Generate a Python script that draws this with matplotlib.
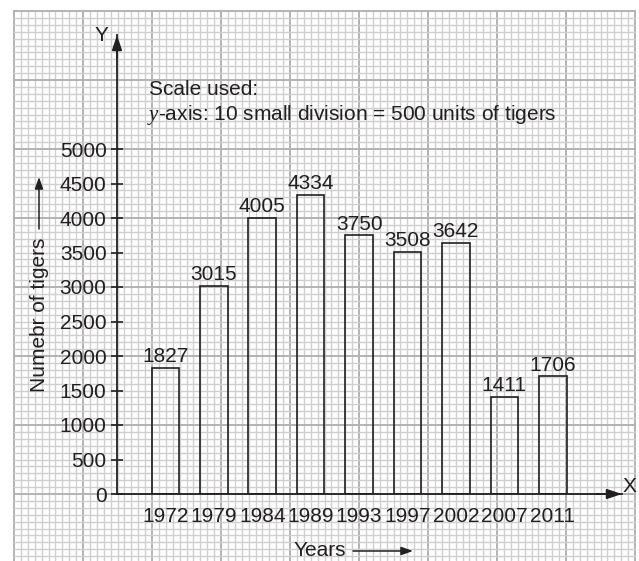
import matplotlib
matplotlib.use("Agg")
import matplotlib.pyplot as plt
import numpy as np

years = ["1972", "1979", "1984", "1989", "1993", "1997", "2002", "2007", "2011"]
tigers = [1827, 3015, 4005, 4334, 3750, 3508, 3642, 1411, 1706]
y_ticks = [0, 500, 1000, 1500, 2000, 2500, 3000, 3500, 4000, 4500, 5000]

INK = "#231f20"
FS = 15
plt.rcParams["font.family"] = ["Liberation Sans", "DejaVu Sans"]
plt.rcParams["mathtext.fontset"] = "custom"
plt.rcParams["mathtext.it"] = "Liberation Serif:italic"
plt.rcParams["mathtext.rm"] = "Liberation Sans"

W, H, DPI = 639, 561, 100
fig = plt.figure(figsize=(W / DPI, H / DPI), dpi=DPI)

# --- graph paper background, in pixel coordinates ---
bg = fig.add_axes([0, 0, 1, 1])
bg.set_xlim(0, W)
bg.set_ylim(H, 0)
bg.axis("off")
step = 6.9
x0, y0 = 14, 11
for k in range(91):
    x = x0 + k * step
    major = k % 10 == 0
    bg.plot([x, x], [y0, H], color="#b3b3b3" if major else "#cfcfcf",
            lw=1.4 if major else 1.0, zorder=0)
for k in range(80):
    y = y0 + k * step
    if y > H:
        break
    major = k % 10 == 0
    bg.plot([x0, x0 + 90 * step], [y, y], color="#b3b3b3" if major else "#cfcfcf",
            lw=1.4 if major else 1.0, zorder=0)

# --- main chart axes ---
ax_left, ax_right = 117, 622
ax_bottom, ax_top = 494, 35
ax = fig.add_axes([ax_left / W, (H - ax_bottom) / H,
                   (ax_right - ax_left) / W, (ax_bottom - ax_top) / H])
ax.patch.set_alpha(0)
ax.set_xlim(-1.0, 9.43)
ax.set_ylim(0, (ax_bottom - ax_top) / 0.069)

x = np.arange(len(years))
ax.bar(x, tigers, width=0.57, facecolor="none", edgecolor=INK, linewidth=1.2, zorder=3)
for xi, v in zip(x, tigers):
    ax.annotate(str(v), (xi, v), xytext=(0, 4), textcoords="offset points",
                ha="center", va="baseline", fontsize=FS, color=INK)

for side in ("top", "right"):
    ax.spines[side].set_visible(False)
for side in ("left", "bottom"):
    ax.spines[side].set_color(INK)
    ax.spines[side].set_linewidth(1.3)

ax.set_yticks(y_ticks)
ax.set_yticklabels([str(t) for t in y_ticks])
ax.tick_params(axis="y", direction="inout", length=9, width=1.2, color=INK,
               labelsize=FS, labelcolor=INK, pad=3)
ax.set_xticks(x)
ax.set_xticklabels(years)
ax.tick_params(axis="x", length=0, labelsize=FS, labelcolor=INK, pad=9)

# axis arrow heads
arrow_kw = dict(arrowstyle="-|>,head_length=0.9,head_width=0.3", color=INK, lw=1.3,
                shrinkA=0, shrinkB=0)
ax.annotate("", xy=(0, 1), xytext=(0, 0.95), xycoords="axes fraction",
            arrowprops=arrow_kw)
ax.annotate("", xy=(1, 0), xytext=(0.95, 0), xycoords="axes fraction",
            arrowprops=arrow_kw)

ax.set_ylabel("Numebr of tigers", fontsize=FS, color=INK)
ax.yaxis.label.set_va("center")
ax.yaxis.set_label_coords((40 - ax_left) / (ax_right - ax_left),
                          (ax_bottom - 315) / (ax_bottom - ax_top))
ax.set_xlabel("Years", fontsize=FS, color=INK)
ax.xaxis.label.set_va("center")
ax.xaxis.set_label_coords((320 - ax_left) / (ax_right - ax_left),
                          (ax_bottom - 551) / (ax_bottom - ax_top))

# label arrows and axis letters
lab_arrow = dict(arrowstyle="-|>,head_length=0.7,head_width=0.25", color=INK, lw=1.1,
                 shrinkA=0, shrinkB=0)
bg.annotate("", xy=(39, 177), xytext=(39, 229), arrowprops=lab_arrow)
bg.annotate("", xy=(413, 551), xytext=(353, 551), arrowprops=lab_arrow)
bg.text(101, 35, "Y", fontsize=FS, color=INK, ha="center", va="center")
bg.text(629, 486, "X", fontsize=FS, color=INK, ha="center", va="center")

bg.text(149, 89, "Scale used:", fontsize=FS, color=INK, ha="left", va="center")
bg.text(147, 115, "$y$-axis: 10 small division = 500 units of tigers", fontsize=FS,
        color=INK, ha="left", va="center")

fig.savefig("out.png", dpi=DPI)
